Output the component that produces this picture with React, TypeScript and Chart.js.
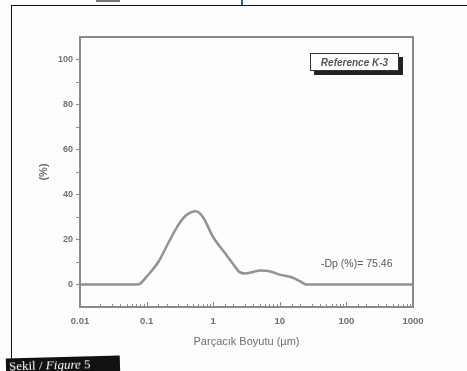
import React, { useEffect, useRef } from "react";
import { Chart, registerables } from "chart.js";

Chart.register(...registerables);

const sizes = [0.01, 0.05, 0.07, 0.08, 0.1, 0.15, 0.2, 0.3, 0.4, 0.55, 0.7, 1.0, 1.5, 2, 2.5, 3, 4, 5, 7, 10, 15, 20, 25, 30, 1000];
const percents = [0, 0, 0, 0.4, 3.5, 10, 17, 26.5, 31, 32.6, 30, 21, 14, 9, 5.5, 4.9, 5.6, 6.2, 5.9, 4.4, 3.2, 1.5, 0, 0, 0];
const xLabels = [0.01, 0.1, 1, 10, 100, 1000];
const yLabels = [0, 20, 40, 60, 80, 100];

const GRAY = "#8a8a8a";
const TXT = "#6e6e6e";
const FONT = "Liberation Sans, Arial";

const isMajor = (v: number) => xLabels.some((l) => Math.abs(l - v) / l < 1e-6);

const framePlugin = {
  id: "frame",
  afterDraw(chart: any) {
    const { ctx, chartArea: a } = chart;
    const xs = chart.scales.x;
    ctx.save();
    ctx.strokeStyle = GRAY;
    ctx.lineWidth = 1;
    xs.ticks.forEach((t: any) => {
      const px = Math.round(xs.getPixelForValue(t.value)) + 0.5;
      const len = isMajor(t.value) ? 5 : 3;
      ctx.beginPath();
      ctx.moveTo(px, a.bottom);
      ctx.lineTo(px, a.bottom - len);
      ctx.stroke();
    });
    ctx.lineWidth = 2;
    ctx.strokeRect(a.left, a.top, a.right - a.left, a.bottom - a.top);
    ctx.restore();
  },
};

export default function App() {
  const ref = useRef<HTMLCanvasElement>(null);
  useEffect(() => {
    document.body.style.margin = "0";
    const chart = new Chart(ref.current!, {
      type: "line",
      data: {
        datasets: [
          {
            data: sizes.map((s, i) => ({ x: s, y: percents[i] })),
            borderColor: "#929292",
            borderWidth: 2.5,
            pointRadius: 0,
            cubicInterpolationMode: "monotone",
            fill: false,
          },
        ],
      },
      options: {
        animation: false,
        responsive: false,
        devicePixelRatio: 1,
        layout: { padding: { left: 34, top: 37, right: 54, bottom: 18 } },
        plugins: { legend: { display: false }, tooltip: { enabled: false } },
        scales: {
          x: {
            type: "logarithmic",
            min: 0.01,
            max: 1000,
            afterFit: (s: any) => { s.height = 46; },
            grid: { drawOnChartArea: false, drawTicks: false },
            border: { display: true, color: GRAY, width: 2 },
            ticks: {
              autoSkip: false,
              maxRotation: 0,
              color: TXT,
              padding: 9,
              font: { family: FONT, size: 9.5, weight: "bold" },
              callback: (v: any) => {
                const n = Number(v);
                const hit = xLabels.find((l) => Math.abs(l - n) / l < 1e-6);
                return hit !== undefined ? String(hit) : "";
              },
            },
            title: {
              display: true,
              text: "Parçacık Boyutu (µm)",
              color: TXT,
              padding: { top: 2, bottom: 4 },
              font: { family: FONT, size: 11 },
            },
          },
          y: {
            min: -10,
            max: 110,
            afterFit: (s: any) => { s.width = 46; },
            grid: {
              drawOnChartArea: false,
              tickLength: 4,
              tickWidth: 1,
              tickColor: (c: any) => (c.tick && (c.tick.value < 0 || c.tick.value > 100) ? "rgba(0,0,0,0)" : GRAY),
            },
            border: { display: true, color: GRAY, width: 2 },
            ticks: {
              stepSize: 10,
              color: TXT,
              padding: 3,
              font: { family: FONT, size: 9, weight: "bold" },
              callback: (v: any) => (yLabels.includes(Number(v)) ? String(v) : ""),
            },
            title: {
              display: true,
              text: "(%)",
              color: TXT,
              padding: { top: 3, bottom: 4 },
              font: { family: FONT, size: 11, weight: "bold" },
            },
          },
        },
      },
      plugins: [framePlugin],
    } as any);
    return () => chart.destroy();
  }, []);

  return (
    <div style={{ position: "fixed", left: 0, top: 0, width: 467, height: 371, background: "#fdfdfd", overflow: "hidden" }}>
      <div style={{ position: "absolute", left: 96, top: 0, width: 24, height: 2, background: "#777" }} />
      <div style={{ position: "absolute", left: 241, top: 0, width: 2, height: 6, background: "#2a5c9e" }} />
      <div style={{ position: "absolute", left: 11, top: 5, width: 470, height: 380, borderLeft: "1.5px solid #111", borderTop: "1.5px solid #111" }} />
      <canvas ref={ref} width={467} height={371} style={{ position: "absolute", left: 0, top: 0 }} />
      <div
        style={{
          position: "absolute",
          left: 310,
          top: 53,
          width: 87,
          height: 16,
          border: "1px solid #333",
          background: "#fff",
          boxShadow: "4px 4px 0 #222",
          fontFamily: FONT,
          fontStyle: "italic",
          fontWeight: "bold",
          fontSize: 10,
          color: "#555",
          display: "flex",
          alignItems: "center",
          justifyContent: "center",
          whiteSpace: "nowrap",
        }}
      >
        Reference K-3
      </div>
      <div style={{ position: "absolute", left: 321, top: 257, fontFamily: FONT, fontSize: 10.5, color: "#5a5a5a", whiteSpace: "nowrap" }}>
        -Dp (%)= 75.46
      </div>
      <div
        style={{
          position: "absolute",
          left: 6,
          top: 357,
          width: 114,
          height: 20,
          background: "#111",
          color: "#fff",
          fontFamily: "Liberation Serif, serif",
          fontSize: 13,
          paddingLeft: 3,
          lineHeight: "16px",
          transform: "rotate(-1.5deg)",
          boxSizing: "border-box",
        }}
      >
        Şekil / <i>Figure</i> 5
      </div>
    </div>
  );
}
